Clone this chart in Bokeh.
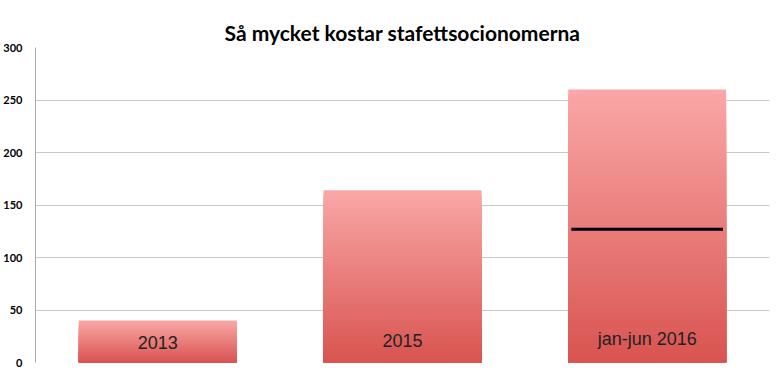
from bokeh.plotting import figure
from bokeh.models import Range1d, ColumnDataSource, FixedTicker, Title
from bokeh.core.properties import value
from bokeh.embed import file_html
from bokeh.resources import INLINE

# Data
categories = ["2013", "2015", "jan-jun 2016"]
costs = [40, 164, 260]
marker_values = [None, None, 127]
y_ticks = [0, 50, 100, 150, 200, 250, 300]

title_text = "Så mycket kostar stafettsocionomerna"

p = figure(width=780, height=373, output_backend="svg", toolbar_location=None,
           x_range=Range1d(0, len(categories)), y_range=Range1d(0, 300),
           min_border_left=34, min_border_right=11, min_border_top=47, min_border_bottom=11)
p.background_fill_color = "white"
p.border_fill_color = "white"
p.outline_line_color = None

t = Title(text=title_text, align="center", text_font="Lato", text_font_size="21px",
          text_font_style="bold", text_color="black", standoff=5)
p.title = t

# gradient bars built from the data (nested slices, tallest first -> no seams)
N = 60
bottom_rgb = (217, 84, 80)
top_rgb = (250, 168, 168)
xs, tops, cols = [], [], []
bar_w = 0.645
for i, v in enumerate(costs):
    for k in range(N - 1, -1, -1):
        f = (k + 0.5) / N
        r = int(bottom_rgb[0] + (top_rgb[0] - bottom_rgb[0]) * f)
        g = int(bottom_rgb[1] + (top_rgb[1] - bottom_rgb[1]) * f)
        b = int(bottom_rgb[2] + (top_rgb[2] - bottom_rgb[2]) * f)
        xs.append(i + 0.5)
        tops.append(v * (k + 1) / N)
        cols.append("#%02x%02x%02x" % (r, g, b))
src = ColumnDataSource(dict(x=xs, top=tops, color=cols))
p.vbar(x="x", bottom=0, top="top", width=bar_w, fill_color="color",
       line_color=None, source=src)

# labels inside bars
lab_src = ColumnDataSource(dict(x=[i + 0.5 for i in range(len(categories))],
                                y=[19, 21, 22], text=categories))
p.text(x="x", y="y", text="text", source=lab_src, text_align="center",
       text_baseline="middle", text_font=value("Liberation Sans"),
       text_font_size="18px", text_color="#222222")

# black marker line
mx0, mx1, my = [], [], []
for i, m in enumerate(marker_values):
    if m is not None:
        mx0.append(i + 0.5 - 0.31)
        mx1.append(i + 0.5 + 0.31)
        my.append(m)
p.segment(x0=mx0, y0=my, x1=mx1, y1=my, line_color="black", line_width=3)

# axes
p.xaxis.visible = False
yax = p.yaxis[0]
yax.ticker = FixedTicker(ticks=y_ticks)
yax.axis_line_color = "#aaaaaa"
yax.major_tick_line_color = None
yax.minor_tick_line_color = None
yax.major_label_text_font = "Lato"
yax.major_label_text_font_style = "bold"
yax.major_label_text_font_size = "11px"
yax.major_label_standoff = 7
yax.major_label_text_color = "black"

p.xgrid.visible = False
p.ygrid.ticker = FixedTicker(ticks=y_ticks)
p.ygrid.grid_line_color = "#c8c8c8"
p.ygrid.grid_line_width = 1

open("out.html", "w").write(file_html(p, INLINE))
